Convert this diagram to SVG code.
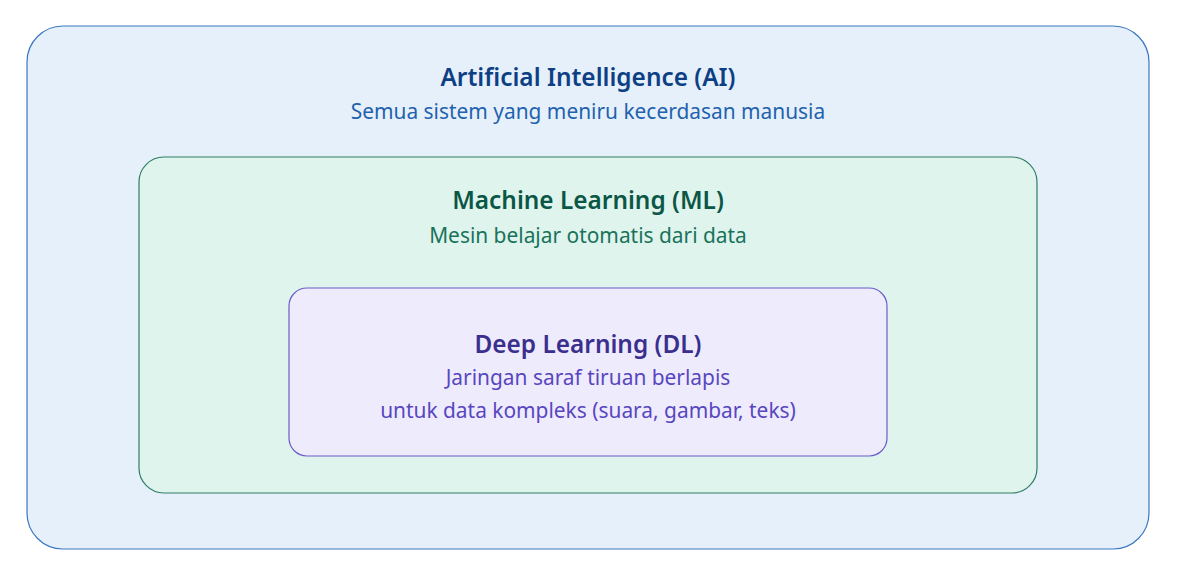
<svg xmlns="http://www.w3.org/2000/svg" width="1181" height="579" viewBox="0 0 1181 579">
<style>
text{font-family:"Noto Sans","Open Sans","DejaVu Sans",sans-serif;text-anchor:middle}
.t{font-weight:600;font-size:24.4px}
.s{font-size:20.9px}
</style>
<rect width="1181" height="579" fill="#ffffff"/>
<g id="ai">
<rect x="27" y="26" width="1122" height="523" rx="36" fill="#e6f0fb" stroke="#3b78c1" stroke-width="1.2"/>
<text class="t" x="588" y="86" fill="#0d3f85">Artificial Intelligence (AI)</text>
<text class="s" x="588" y="119" fill="#1f62ad">Semua sistem yang meniru kecerdasan manusia</text>
</g>
<g id="ml">
<rect x="139" y="157" width="898" height="336" rx="25" fill="#e0f4ee" stroke="#2f7d63" stroke-width="1.2"/>
<text class="t" x="588" y="209" fill="#0b5746">Machine Learning (ML)</text>
<text class="s" x="588" y="243" fill="#19735a">Mesin belajar otomatis dari data</text>
</g>
<g id="dl">
<rect x="289" y="288" width="598" height="168" rx="18" fill="#eeecfc" stroke="#6a5cc8" stroke-width="1.2"/>
<text class="t" x="588" y="353" fill="#3a2f8d">Deep Learning (DL)</text>
<text class="s" x="588" y="385" fill="#5846c0">Jaringan saraf tiruan berlapis</text>
<text class="s" x="588" y="418" fill="#5846c0">untuk data kompleks (suara, gambar, teks)</text>
</g>
<g id="connectors"></g>
</svg>
